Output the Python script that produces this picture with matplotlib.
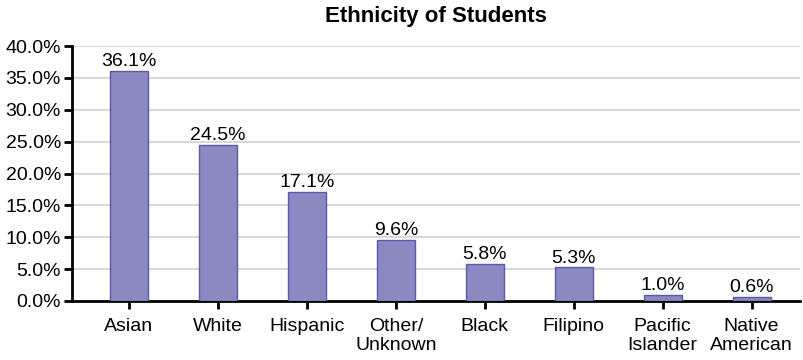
import numpy as np
import matplotlib.pyplot as plt
from matplotlib.ticker import PercentFormatter

# data
categories = ['Asian', 'White', 'Hispanic', 'Other/\nUnknown', 'Black',
              'Filipino', 'Pacific\nIslander', 'Native\nAmerican']
percents = [36.1, 24.5, 17.1, 9.6, 5.8, 5.3, 1.0, 0.6]
y_ticks = [0, 5, 10, 15, 20, 25, 30, 35, 40]

plt.rcParams['font.family'] = ['Liberation Sans', 'DejaVu Sans']

fig = plt.figure(figsize=(8.04, 3.6), dpi=100)
ax = fig.add_axes([0.0896, 0.164, 0.905, 0.708])

x = np.arange(len(categories))
bars = ax.bar(x, percents, width=0.43, color='#8b89c1', edgecolor='#5c5aa6',
              linewidth=1, zorder=3)

for xi, v in zip(x, percents):
    ax.text(xi, v + 0.1, f'{v:.1f}%', ha='center', va='bottom', fontsize=14)

ax.set_xlim(-0.64, 7.54)
ax.set_ylim(0, 40)
ax.set_yticks(y_ticks)
ax.yaxis.set_major_formatter(PercentFormatter(decimals=1))
ax.set_xticks(x)
ax.set_xticklabels(categories, fontsize=14, linespacing=1.15)
ax.tick_params(axis='y', labelsize=14, length=6, width=2, direction='out', pad=2)
ax.tick_params(axis='x', length=6, width=2, direction='out', pad=6)

ax.grid(axis='y', color='#d9d9d9', linewidth=1.5, zorder=0)
for side in ['top', 'right']:
    ax.spines[side].set_visible(False)
ax.spines['left'].set_linewidth(2)
ax.spines['bottom'].set_linewidth(2)

ax.set_title('Ethnicity of Students', fontsize=16, fontweight='bold', pad=17)

fig.savefig('out.png', dpi=100)
